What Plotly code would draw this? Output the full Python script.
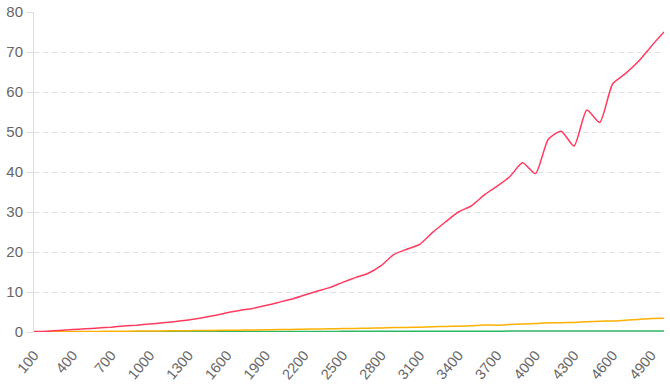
import plotly.graph_objects as go

categories = [str(100 * (i + 1)) for i in range(50)]

red_values = [0.1, 0.2, 0.4, 0.6, 0.8, 1.0, 1.2, 1.5, 1.7, 2.0,
              2.3, 2.6, 3.0, 3.5, 4.1, 4.8, 5.4, 5.9, 6.6, 7.4,
              8.2, 9.2, 10.2, 11.1, 12.4, 13.6, 14.7, 16.6, 19.4, 20.7,
              21.9, 24.9, 27.5, 30.0, 31.5, 34.2, 36.4, 38.8, 42.3, 39.6,
              48.2, 50.2, 46.5, 55.5, 52.4, 62.0, 64.6, 67.6, 71.4, 75.0]

orange_values = [0.02, 0.05, 0.08, 0.1, 0.13, 0.15, 0.18, 0.2, 0.22, 0.25,
                 0.28, 0.3, 0.33, 0.36, 0.4, 0.42, 0.45, 0.5, 0.55, 0.6,
                 0.65, 0.7, 0.75, 0.8, 0.85, 0.9, 0.95, 1.0, 1.1, 1.15,
                 1.2, 1.3, 1.4, 1.45, 1.55, 1.75, 1.7, 1.85, 2.0, 2.1,
                 2.3, 2.3, 2.4, 2.55, 2.7, 2.75, 2.95, 3.15, 3.4, 3.45]

green_values = [0.02, 0.03, 0.03, 0.04, 0.05, 0.05, 0.06, 0.07, 0.07, 0.08,
                0.08, 0.09, 0.1, 0.1, 0.11, 0.11, 0.12, 0.12, 0.13, 0.13,
                0.14, 0.14, 0.15, 0.15, 0.16, 0.16, 0.17, 0.17, 0.18, 0.18,
                0.19, 0.19, 0.2, 0.2, 0.2, 0.21, 0.21, 0.22, 0.22, 0.22,
                0.23, 0.23, 0.24, 0.24, 0.25, 0.25, 0.26, 0.27, 0.28, 0.28]

tick_labels = categories[::3]
y_ticks = [0, 10, 20, 30, 40, 50, 60, 70, 80]

series = [
    ("green", green_values, "#2db862"),
    ("orange", orange_values, "#ffb000"),
    ("red", red_values, "#ff3b5f"),
]

fig = go.Figure()
for name, vals, color in series:
    fig.add_trace(go.Scatter(
        x=categories, y=vals, name=name, mode="lines",
        line=dict(color=color, width=1.5, shape="spline", smoothing=0.6),
        hoverinfo="skip", cliponaxis=False,
    ))

font_family = "Liberation Sans, Arial, Helvetica, sans-serif"

fig.update_layout(
    width=670, height=387,
    margin=dict(l=34, r=6, t=12, b=55, autoexpand=False),
    paper_bgcolor="white", plot_bgcolor="white",
    showlegend=False,
    font=dict(family=font_family, color="#666666", size=15),
    xaxis=dict(
        type="category",
        range=[0, 49],
        automargin=False,
        tickmode="array", tickvals=tick_labels, ticktext=tick_labels,
        tickangle=-50,
        tickfont=dict(size=14.5, color="#666666"),
        showgrid=False, zeroline=False, showline=False,
        ticks="outside", ticklen=8, tickcolor="rgba(0,0,0,0)",
    ),
    yaxis=dict(
        range=[0, 80],
        automargin=False,
        tickmode="array", tickvals=y_ticks,
        tickfont=dict(size=15, color="#666666"),
        showgrid=True, gridcolor="#e0e0e0", griddash="5px,4px", gridwidth=1,
        zeroline=False,
        showline=True, linecolor="#dddddd", linewidth=1,
        ticks="outside", ticklen=7, tickcolor="#e0e0e0",
    ),
)

fig.write_html(
    "out.html",
    config={"displayModeBar": False},
    post_script="document.body.style.margin='0';document.body.style.overflow='hidden';",
)
